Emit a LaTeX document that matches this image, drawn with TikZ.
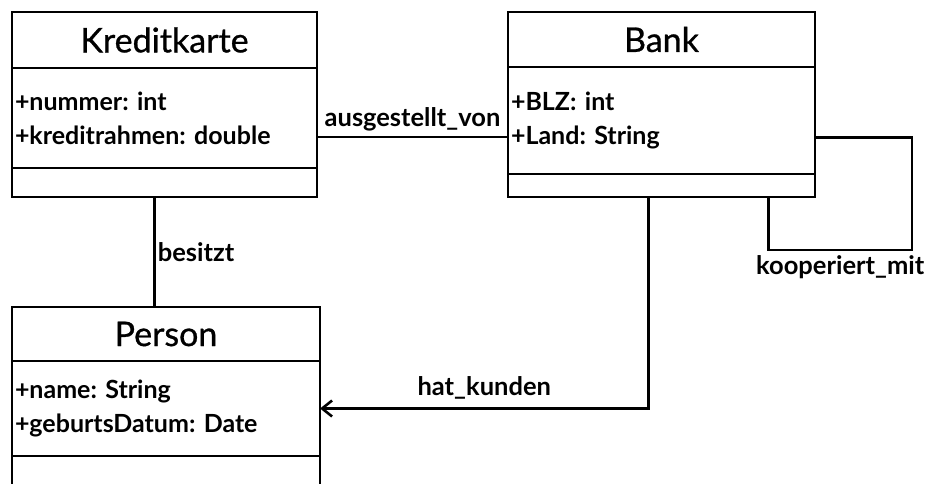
\documentclass[tikz,border=0pt]{standalone}
\usepackage{fontspec}
\setmainfont{Lato}
\newfontfamily\headfont[FakeBold=0.8]{Lato}
\frenchspacing
\usetikzlibrary{positioning,arrows.meta}

\begin{document}
\begin{tikzpicture}[x=1pt,y=-1pt,
  box/.style={draw,line width=1.8pt,outer sep=0pt,inner sep=0pt},
  head/.style={box,font=\headfont\fontsize{34}{38}\selectfont},
  attrs/.style={box,font=\fontsize{25}{34}\selectfont\bfseries,align=left,inner xsep=3pt},
  assoc/.style={line width=2.6pt},
  lbl/.style={font=\fontsize{25.5}{28}\selectfont\bfseries,inner sep=2pt}]
  \useasboundingbox (0,0) rectangle (932,484);
  \node[head,anchor=north west,minimum width=305pt,minimum height=56pt] (kk) at (12,12) {Kreditkarte};
  \node[attrs,below=0pt of kk,minimum height=100pt,text width=299pt] (kkattr) {+nummer: int\\+kreditrahmen: double};
  \node[box,below=0pt of kkattr,minimum width=305pt,minimum height=29pt] (kkops) {};
  \node[head,anchor=north west,minimum width=307pt,minimum height=55pt] (bank) at (508,12) {Bank};
  \node[attrs,below=0pt of bank,minimum height=107pt,text width=301pt] (bankattr) {+BLZ: int\\+Land: String};
  \node[box,below=0pt of bankattr,minimum width=307pt,minimum height=23pt] (bankops) {};
  \node[head,anchor=north west,minimum width=308pt,minimum height=54pt] (pers) at (12,307) {Person};
  \node[attrs,below=0pt of pers,minimum height=95pt,text width=302pt] (persattr) {+name: String\\+geburtsDatum: Date};
  \node[box,below=0pt of persattr,minimum width=308pt,minimum height=40pt] (persops) {};
  \coordinate (loop) at (912,250);
  \draw[assoc] ([xshift=-10pt]kkops.south) -- ([xshift=-10pt]kkops.south |- pers.north) node[midway,right,lbl]{besitzt};
  \draw[assoc] ([yshift=-19pt]kkattr.east) -- ([yshift=-19pt]kkattr.east -| bankattr.west) node[midway,above=3pt,lbl]{ausgestellt\_von};
  \draw[assoc] ([yshift=-17pt]bankattr.east) -| (loop) -| ([xshift=107pt]bankops.south) node[pos=0.25,below=2pt,lbl]{kooperiert\_mit};
  \draw[assoc,-{Straight Barb[length=10pt,width=16pt]}] ([xshift=-13pt]bankops.south) |- (persattr.east) node[pos=0.75,above=6pt,lbl]{hat\_kunden};
\end{tikzpicture}
\end{document}
